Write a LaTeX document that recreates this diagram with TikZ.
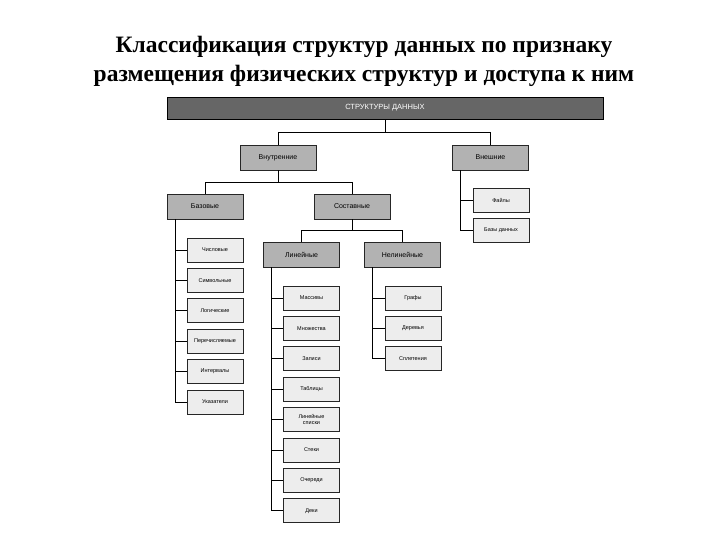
\documentclass[tikz,border=0pt]{standalone}
\usepackage{fontspec}
\setmainfont{Liberation Serif}
\newfontfamily\boxfont{Liberation Sans}
\begin{document}
\begin{tikzpicture}[x=1pt,y=-1pt,
  lvl/.style={draw=black!85,line width=0.9pt,fill=black!30,minimum width=76pt,minimum height=25pt,font=\boxfont\fontsize{7}{8}\selectfont,inner sep=1pt},
  leaf/.style={draw=black!85,line width=0.9pt,fill=black!7,minimum width=56pt,minimum height=24pt,font=\boxfont\fontsize{5.5}{6.5}\selectfont,align=center,inner sep=1pt},
  conn/.style={draw=black,line width=0.8pt}]
\useasboundingbox (0,0) rectangle (720,540);
\node[font=\bfseries\fontsize{23.5}{29}\selectfont,align=center] (title) at (364,61) {Классификация структур данных по признаку\\размещения физических структур и доступа к ним};
\node[draw=black,line width=0.9pt,fill=black!60,text=white,minimum width=436pt,minimum height=22pt,font=\boxfont\fontsize{7.5}{8}\selectfont] (root) at (385,108) {СТРУКТУРЫ ДАННЫХ};
\node[lvl] (vn) at (278,157.5) {Внутренние};
\node[lvl] (ve) at (490.5,157.5) {Внешние};
\node[lvl] (baz) at (205,206.5) {Базовые};
\node[lvl] (sos) at (352,206.5) {Составные};
\node[lvl] (lin) at (301.5,254.5) {Линейные};
\node[lvl] (nel) at (402.5,254.5) {Нелинейные};
\node[leaf] (f1) at (501,200) {Файлы};
\node[leaf] (f2) at (501,230) {Базы данных};
\foreach \t [count=\i] in {Числовые,Символьные,Логические,Перечисляемые,Интервалы,Указатели}{
  \node[leaf] (b\i) at (215,{250+30.4*(\i-1)}) {\t};
  \draw[conn] ([xshift=-30pt]baz.south) |- (b\i.west);}
\foreach \t [count=\i] in {Массивы,Множества,Записи,Таблицы,{Линейные\\списки},Стеки,Очереди,Деки}{
  \node[leaf] (l\i) at (311.5,{298+30.4*(\i-1)}) {\t};
  \draw[conn] ([xshift=-30pt]lin.south) |- (l\i.west);}
\foreach \t [count=\i] in {Графы,Деревья,Сплетения}{
  \node[leaf] (n\i) at (413,{298+30.2*(\i-1)}) {\t};
  \draw[conn] ([xshift=-30pt]nel.south) |- (n\i.west);}
\foreach \i in {1,2}{\draw[conn] ([xshift=-30pt]ve.south) |- (f\i.west);}
\draw[conn] (root.south) -- ++(0,13) -| (vn.north);
\draw[conn] (root.south) -- ++(0,13) -| (ve.north);
\draw[conn] (vn.south) -- ++(0,12) -| (baz.north);
\draw[conn] (vn.south) -- ++(0,12) -| (sos.north);
\draw[conn] (sos.south) -- ++(0,11) -| (lin.north);
\draw[conn] (sos.south) -- ++(0,11) -| (nel.north);
\end{tikzpicture}
\end{document}
